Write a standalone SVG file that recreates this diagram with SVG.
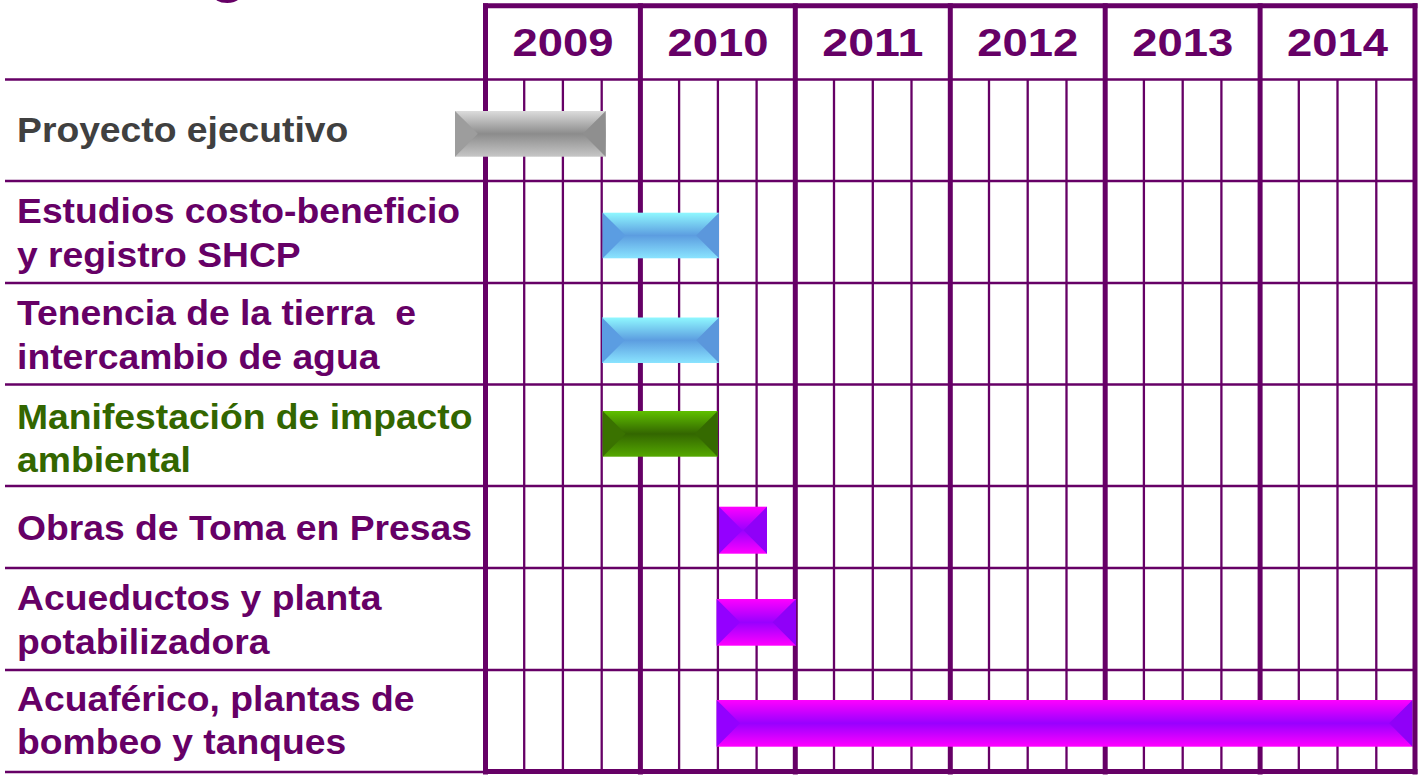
<svg xmlns="http://www.w3.org/2000/svg" width="1422" height="778" viewBox="0 0 1422 778">
<style>
  .lbl { font-family: "Liberation Sans", Arial, sans-serif; font-weight: bold; font-size: 35px; fill: #660066; }
  .gray { fill: #404040; }
  .green { fill: #336600; }
  .yr { font-family: "Liberation Sans", Arial, sans-serif; font-weight: bold; font-size: 39px; fill: #660066; text-anchor: middle; }
  .q { stroke: #660066; stroke-width: 2.3; }
  .h { stroke: #660066; stroke-width: 2.7; }
  .y { stroke: #660066; stroke-width: 5; }
</style>
<defs>
  <linearGradient id="gGray" x1="0" y1="0" x2="0" y2="1">
    <stop offset="0" stop-color="#dcdcdc"/><stop offset="0.5" stop-color="#8c8c8c"/><stop offset="1" stop-color="#c6c6c6"/>
  </linearGradient>
  <linearGradient id="gBlue" x1="0" y1="0" x2="0" y2="1">
    <stop offset="0" stop-color="#8ff8ff"/><stop offset="0.5" stop-color="#5c9de0"/><stop offset="1" stop-color="#8ae4ff"/>
  </linearGradient>
  <linearGradient id="gGreen" x1="0" y1="0" x2="0" y2="1">
    <stop offset="0" stop-color="#5fc000"/><stop offset="0.5" stop-color="#336600"/><stop offset="1" stop-color="#55a800"/>
  </linearGradient>
  <linearGradient id="gMag" x1="0" y1="0" x2="0" y2="1">
    <stop offset="0" stop-color="#ff00ff"/><stop offset="0.5" stop-color="#9900ff"/><stop offset="1" stop-color="#ff00ff"/>
  </linearGradient>
</defs>
<rect width="1422" height="778" fill="#ffffff"/>

<text x="228" y="-10" class="yr" style="font-size:64px">g</text>

<g id="connectors">
  <g id="quarter-lines">
    <line class="q" x1="524.2" y1="79.5" x2="524.2" y2="772"/>
    <line class="q" x1="562.9" y1="79.5" x2="562.9" y2="772"/>
    <line class="q" x1="601.7" y1="79.5" x2="601.7" y2="772"/>
    <line class="q" x1="679.1" y1="79.5" x2="679.1" y2="772"/>
    <line class="q" x1="717.9" y1="79.5" x2="717.9" y2="772"/>
    <line class="q" x1="756.6" y1="79.5" x2="756.6" y2="772"/>
    <line class="q" x1="834.0" y1="79.5" x2="834.0" y2="772"/>
    <line class="q" x1="872.8" y1="79.5" x2="872.8" y2="772"/>
    <line class="q" x1="911.5" y1="79.5" x2="911.5" y2="772"/>
    <line class="q" x1="989.0" y1="79.5" x2="989.0" y2="772"/>
    <line class="q" x1="1027.7" y1="79.5" x2="1027.7" y2="772"/>
    <line class="q" x1="1066.5" y1="79.5" x2="1066.5" y2="772"/>
    <line class="q" x1="1143.9" y1="79.5" x2="1143.9" y2="772"/>
    <line class="q" x1="1182.7" y1="79.5" x2="1182.7" y2="772"/>
    <line class="q" x1="1221.4" y1="79.5" x2="1221.4" y2="772"/>
    <line class="q" x1="1298.8" y1="79.5" x2="1298.8" y2="772"/>
    <line class="q" x1="1337.5" y1="79.5" x2="1337.5" y2="772"/>
    <line class="q" x1="1376.3" y1="79.5" x2="1376.3" y2="772"/>
  </g>
  <g id="row-lines">
    <line class="h" x1="5" y1="79.5" x2="1415" y2="79.5"/>
    <line class="h" x1="5" y1="181" x2="1415" y2="181"/>
    <line class="h" x1="5" y1="283" x2="1415" y2="283"/>
    <line class="h" x1="5" y1="384.5" x2="1415" y2="384.5"/>
    <line class="h" x1="5" y1="486" x2="1415" y2="486"/>
    <line class="h" x1="5" y1="568" x2="1415" y2="568"/>
    <line class="h" x1="5" y1="670" x2="1415" y2="670"/>
    <line class="h" x1="5" y1="772" x2="486" y2="772"/>
  </g>
  <g id="year-lines">
    <line class="y" x1="485.5" y1="3.3" x2="485.5" y2="774.5"/>
    <line class="y" x1="640.4" y1="3.3" x2="640.4" y2="774.5"/>
    <line class="y" x1="795.3" y1="3.3" x2="795.3" y2="774.5"/>
    <line class="y" x1="950.3" y1="3.3" x2="950.3" y2="774.5"/>
    <line class="y" x1="1105.2" y1="3.3" x2="1105.2" y2="774.5"/>
    <line class="y" x1="1260.1" y1="3.3" x2="1260.1" y2="774.5"/>
    <line class="y" x1="483" y1="5.8" x2="1417.5" y2="5.8"/>
  </g>
</g>

<g id="header">
  <text class="yr" x="563" y="56" textLength="101" lengthAdjust="spacingAndGlyphs">2009</text>
  <text class="yr" x="718" y="56" textLength="101" lengthAdjust="spacingAndGlyphs">2010</text>
  <text class="yr" x="872.8" y="56" textLength="101" lengthAdjust="spacingAndGlyphs">2011</text>
  <text class="yr" x="1027.7" y="56" textLength="101" lengthAdjust="spacingAndGlyphs">2012</text>
  <text class="yr" x="1182.7" y="56" textLength="101" lengthAdjust="spacingAndGlyphs">2013</text>
  <text class="yr" x="1337.5" y="56" textLength="101" lengthAdjust="spacingAndGlyphs">2014</text>
</g>

<g id="row-proyecto">
  <text class="lbl gray" transform="scale(1.065 1)" x="16" y="142">Proyecto ejecutivo</text>
  <rect x="455" y="111" width="150.7" height="45.7" fill="url(#gGray)"/>
  <polygon points="455,111 477.85,133.85 455,156.7" fill="#9d9d9d"/>
  <polygon points="605.7,111 582.85,133.85 605.7,156.7" fill="#8f8f8f"/>
</g>

<g id="row-estudios">
  <text class="lbl" transform="scale(1.065 1)" x="16" y="223.5">Estudios costo-beneficio</text>
  <text class="lbl" transform="scale(1.065 1)" x="16" y="267">y registro SHCP</text>
  <rect x="602.7" y="212.7" width="116.3" height="45.6" fill="url(#gBlue)"/>
  <polygon points="602.7,212.7 625.5,235.5 602.7,258.3" fill="#5b9de2"/>
  <polygon points="719,212.7 696.2,235.5 719,258.3" fill="#5b97dc"/>
</g>

<g id="row-tenencia">
  <text class="lbl" transform="scale(1.065 1)" x="16" y="325.5" xml:space="preserve">Tenencia de la tierra  e</text>
  <text class="lbl" transform="scale(1.065 1)" x="16" y="369">intercambio de agua</text>
  <rect x="602" y="317.5" width="117" height="45.5" fill="url(#gBlue)"/>
  <polygon points="602,317.5 624.75,340.25 602,363" fill="#5b9de2"/>
  <polygon points="719,317.5 696.25,340.25 719,363" fill="#5b97dc"/>
</g>

<g id="row-manifestacion">
  <text class="lbl green" transform="scale(1.065 1)" x="16" y="429">Manifestación de impacto</text>
  <text class="lbl green" transform="scale(1.065 1)" x="16" y="472">ambiental</text>
  <rect x="602.7" y="411" width="115" height="45.7" fill="url(#gGreen)"/>
  <polygon points="602.7,411 625.55,433.85 602.7,456.7" fill="#3a7200"/>
  <polygon points="717.7,411 694.85,433.85 717.7,456.7" fill="#356a00"/>
</g>

<g id="row-obras">
  <text class="lbl" transform="scale(1.065 1)" x="16" y="540.5">Obras de Toma en Presas</text>
  <rect x="719" y="506.7" width="48" height="47" fill="url(#gMag)"/>
  <polygon points="719,506.7 742.5,530.2 719,553.7" fill="#9400ff"/>
  <polygon points="767,506.7 743.5,530.2 767,553.7" fill="#9000f8"/>
</g>

<g id="row-acueductos">
  <text class="lbl" transform="scale(1.065 1)" x="16" y="610.5">Acueductos y planta</text>
  <text class="lbl" transform="scale(1.065 1)" x="16" y="654">potabilizadora</text>
  <rect x="716.7" y="599" width="79.3" height="46.7" fill="url(#gMag)"/>
  <polygon points="716.7,599 740.05,622.35 716.7,645.7" fill="#9400ff"/>
  <polygon points="796,599 772.65,622.35 796,645.7" fill="#9000f8"/>
</g>

<g id="row-acuaferico">
  <text class="lbl" transform="scale(1.065 1)" x="16" y="711.5">Acuaférico, plantas de</text>
  <text class="lbl" transform="scale(1.065 1)" x="16" y="754.5">bombeo y tanques</text>
  <rect x="716.7" y="700" width="695.8" height="46.7" fill="url(#gMag)"/>
  <polygon points="716.7,700 740.05,723.35 716.7,746.7" fill="#9400ff"/>
  <polygon points="1412.5,700 1389.15,723.35 1412.5,746.7" fill="#9000f8"/>
</g>

<g id="frame">
  <line class="y" x1="1415" y1="3.3" x2="1415" y2="774.5"/>
  <line class="y" x1="483" y1="771.5" x2="1417.5" y2="771.5"/>
</g>
</svg>
